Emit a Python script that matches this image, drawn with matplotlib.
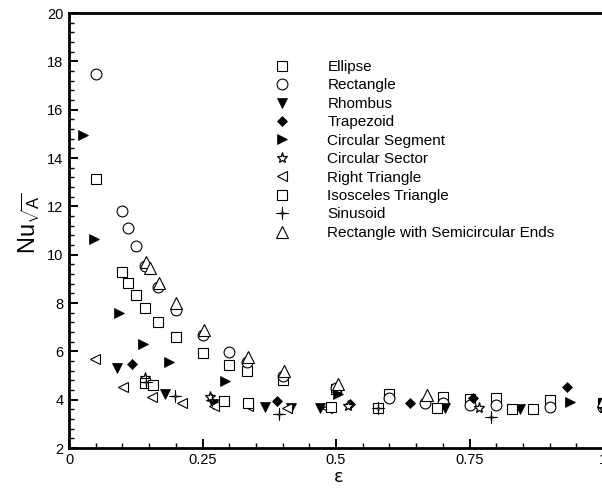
import numpy as np
import matplotlib
matplotlib.use("Agg")
import matplotlib.pyplot as plt
from matplotlib.path import Path
from matplotlib.ticker import MultipleLocator, FixedLocator, FixedFormatter

plt.rcParams["font.family"] = ["Liberation Sans", "DejaVu Sans"]
plt.rcParams["mathtext.fontset"] = "custom"
plt.rcParams["mathtext.rm"] = "Liberation Sans"
plt.rcParams["mathtext.it"] = "Liberation Sans:italic"

# --- data ------------------------------------------------------------------
ellipse_x = [0.05, 0.1, 0.111, 0.125, 0.143, 0.167, 0.2, 0.25, 0.3, 0.333, 0.4, 0.5, 0.6, 0.7, 0.75, 0.8, 0.9, 1.0]
ellipse_y = [13.15, 9.3, 8.84, 8.33, 7.8, 7.22, 6.6, 5.93, 5.45, 5.2, 4.8, 4.45, 4.22, 4.12, 4.02, 4.05, 3.98, 3.85]

rect_x = [0.05, 0.1, 0.111, 0.125, 0.143, 0.167, 0.2, 0.25, 0.3, 0.333, 0.4, 0.5, 0.6, 0.667, 0.7, 0.75, 0.8, 0.9, 1.0]
rect_y = [17.48, 11.82, 11.09, 10.36, 9.53, 8.65, 7.71, 6.68, 5.96, 5.57, 4.98, 4.47, 4.06, 3.88, 3.85, 3.78, 3.78, 3.71, 3.71]

rhombus_x = [0.09, 0.18, 0.27, 0.367, 0.415, 0.47, 0.705, 0.845, 1.0]
rhombus_y = [5.32, 4.22, 3.82, 3.71, 3.64, 3.64, 3.64, 3.62, 3.7]

trap_x = [0.118, 0.39, 0.527, 0.578, 0.638, 0.757, 0.932, 1.0]
trap_y = [5.48, 3.95, 3.82, 3.64, 3.85, 4.06, 4.54, 3.75]

seg_x = [0.026, 0.046, 0.093, 0.139, 0.187, 0.292, 0.503, 0.939, 1.0]
seg_y = [14.95, 10.64, 7.6, 6.31, 5.57, 4.79, 4.24, 3.89, 3.85]

sector_x = [0.143, 0.264, 0.522, 0.578, 0.768, 1.0]
sector_y = [4.91, 4.13, 3.75, 3.64, 3.67, 3.65]

rtri_x = [0.049, 0.102, 0.155, 0.212, 0.271, 0.336, 0.409, 0.484, 1.0]
rtri_y = [5.68, 4.54, 4.10, 3.85, 3.75, 3.75, 3.64, 3.64, 3.7]

iso_x = [0.143, 0.157, 0.29, 0.336, 0.49, 0.578, 0.69, 0.829, 0.869]
iso_y = [4.7, 4.62, 3.95, 3.85, 3.71, 3.64, 3.64, 3.62, 3.6]

sin_x = [0.145, 0.199, 0.268, 0.393, 0.578, 0.79]
sin_y = [4.75, 4.17, 3.99, 3.41, 3.64, 3.27]

semi_x = [0.145, 0.152, 0.169, 0.201, 0.252, 0.336, 0.403, 0.503, 0.67, 1.0]
semi_y = [9.71, 9.44, 8.84, 7.99, 6.88, 5.75, 5.19, 4.65, 4.2, 3.95]

x_ticks = [0, 0.25, 0.5, 0.75, 1.0]
x_labels = ["0", "0.25", "0.5", "0.75", "1"]
y_ticks = [2, 4, 6, 8, 10, 12, 14, 16, 18, 20]

# thin four-pointed star for the sinusoid marker
r_in = 0.1
ang = np.deg2rad(np.arange(0, 360, 45) + 90)
rad = np.array([1, r_in] * 4)
star4 = Path(np.column_stack([rad * np.cos(ang), rad * np.sin(ang)]).tolist() + [[0, 1]], closed=True)

fig = plt.figure(figsize=(6.02, 4.91), dpi=100)
ax = fig.add_axes([69 / 602, 1 - 448 / 491, 534 / 602, 435 / 491])

open_kw = dict(ls="none", mfc="white", mec="black", mew=0.8)
fill_kw = dict(ls="none", mfc="black", mec="black", mew=0.5)

series = [
    (ellipse_x, ellipse_y, "Ellipse", dict(marker="s", ms=7.2, **open_kw)),
    (rect_x, rect_y, "Rectangle", dict(marker="o", ms=7.8, **open_kw)),
    (rhombus_x, rhombus_y, "Rhombus", dict(marker="v", ms=7.0, **fill_kw)),
    (trap_x, trap_y, "Trapezoid", dict(marker="D", ms=5.6, **fill_kw)),
    (seg_x, seg_y, "Circular Segment", dict(marker=">", ms=7.0, **fill_kw)),
    (sector_x, sector_y, "Circular Sector", dict(marker="*", ms=8.0, ls="none", mfc="white", mec="black", mew=0.9)),
    (rtri_x, rtri_y, "Right Triangle", dict(marker="<", ms=7.5, **open_kw)),
    (iso_x, iso_y, "Isosceles Triangle", dict(marker="s", ms=7.2, **open_kw)),
    (sin_x, sin_y, "Sinusoid", dict(marker=star4, ms=9, ls="none", mfc="white", mec="black", mew=0.6)),
    (semi_x, semi_y, "Rectangle with Semicircular Ends", dict(marker="^", ms=8.5, **open_kw)),
]

for xs, ys, name, kw in series:
    ax.plot(xs, ys, label=name, **kw)

ax.set_xlim(0, 1)
ax.set_ylim(2, 20)
ax.xaxis.set_major_locator(FixedLocator(x_ticks))
ax.xaxis.set_major_formatter(FixedFormatter(x_labels))
ax.xaxis.set_minor_locator(MultipleLocator(0.05))
ax.yaxis.set_major_locator(FixedLocator(y_ticks))
ax.yaxis.set_minor_locator(MultipleLocator(0.4))

ax.tick_params(which="both", direction="in", top=False, right=False, labelsize=10.5)
ax.tick_params(axis="x", pad=3.5)
ax.tick_params(axis="y", pad=4)
ax.tick_params(which="major", length=6.5, width=1.4)
ax.tick_params(which="minor", length=3.8, width=1.0)

for side in ("left", "bottom", "top"):
    ax.spines[side].set_linewidth(2.0)
ax.spines["right"].set_visible(False)

ax.set_xlabel("ε", fontsize=13, family=["DejaVu Sans"])
ax.xaxis.set_label_coords(0.505, -0.045)
ax.set_ylabel(r"Nu$_{\sqrt{\mathrm{A}}}$", fontsize=17)
ax.yaxis.set_label_coords(-0.05, 0.515)

ax.legend(loc="upper left", bbox_to_anchor=(274 / 602, 1 - 60 / 491), bbox_transform=fig.transFigure,
          frameon=False, fontsize=11, handlelength=1.0, handletextpad=2.5, labelspacing=0.29,
          borderpad=0, borderaxespad=0, numpoints=1)

fig.savefig("out.png", dpi=100)
